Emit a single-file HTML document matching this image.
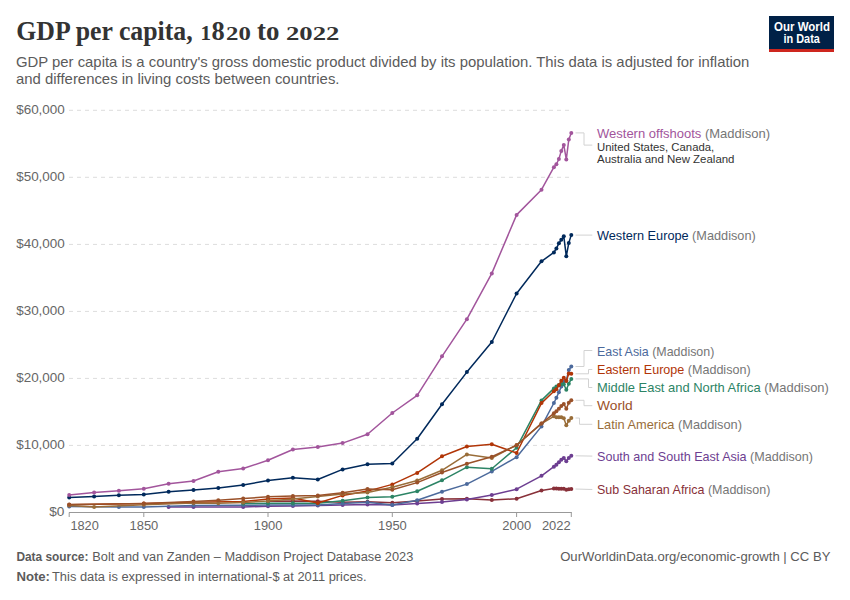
<!DOCTYPE html>
<html><head><meta charset="utf-8"><style>
html,body{margin:0;padding:0;background:#fff;}
body{width:850px;height:600px;overflow:hidden;}
svg{display:block;}
.t{font-family:"Liberation Serif",serif;font-weight:bold;font-size:26.6px;fill:#333333;}
.st{font-family:"Liberation Sans",sans-serif;font-size:14.4px;fill:#5b5b5b;}
.ax{font-family:"Liberation Sans",sans-serif;font-size:12.3px;fill:#666666;}
.lb{font-family:"Liberation Sans",sans-serif;font-size:13px;}
.ds{font-family:"Liberation Sans",sans-serif;font-size:11.5px;fill:#333333;}
.ft{font-family:"Liberation Sans",sans-serif;font-size:12px;fill:#5b5b5b;}
.lg{font-family:"Liberation Sans",sans-serif;font-weight:bold;font-size:12px;fill:#ffffff;}
</style></head><body>
<svg width="850" height="600" viewBox="0 0 850 600">
<rect width="850" height="600" fill="#ffffff"/>
<text x="16.2" y="40" class="t" textLength="176.5" lengthAdjust="spacingAndGlyphs">GDP per capita,</text>
<text x="200.6" y="40" class="t" style="font-size:20.5px" textLength="10.5" lengthAdjust="spacingAndGlyphs">1</text>
<text x="211.6" y="40" class="t" textLength="13.2" lengthAdjust="spacingAndGlyphs">8</text>
<text x="226" y="40" class="t" style="font-size:19px" textLength="24.8" lengthAdjust="spacingAndGlyphs">20</text>
<text x="257" y="40" class="t" textLength="22.4" lengthAdjust="spacingAndGlyphs">to</text>
<text x="286" y="40" class="t" style="font-size:19px" textLength="53.4" lengthAdjust="spacingAndGlyphs">2022</text>
<text x="16" y="66.5" class="st" textLength="733.4" lengthAdjust="spacingAndGlyphs">GDP per capita is a country's gross domestic product divided by its population. This data is adjusted for inflation</text>
<text x="16" y="84.3" class="st" textLength="323.5" lengthAdjust="spacingAndGlyphs">and differences in living costs between countries.</text>
<rect x="769" y="16" width="65" height="36" fill="#002147"/>
<rect x="769" y="49" width="65" height="3" fill="#ce261e"/>
<text x="774" y="30.8" class="lg" textLength="56" lengthAdjust="spacingAndGlyphs">Our World</text>
<text x="783.5" y="42.6" class="lg" textLength="36.4" lengthAdjust="spacingAndGlyphs">in Data</text>
<line x1="69" y1="110.3" x2="571.5" y2="110.3" stroke="#dddddd" stroke-width="1" stroke-dasharray="4,4"/>
<text x="16.2" y="114.3" class="ax" textLength="48.6" lengthAdjust="spacingAndGlyphs">$60,000</text>
<line x1="69" y1="177.3" x2="571.5" y2="177.3" stroke="#dddddd" stroke-width="1" stroke-dasharray="4,4"/>
<text x="16.2" y="181.3" class="ax" textLength="48.6" lengthAdjust="spacingAndGlyphs">$50,000</text>
<line x1="69" y1="244.4" x2="571.5" y2="244.4" stroke="#dddddd" stroke-width="1" stroke-dasharray="4,4"/>
<text x="16.2" y="248.4" class="ax" textLength="48.6" lengthAdjust="spacingAndGlyphs">$40,000</text>
<line x1="69" y1="311.4" x2="571.5" y2="311.4" stroke="#dddddd" stroke-width="1" stroke-dasharray="4,4"/>
<text x="16.2" y="315.4" class="ax" textLength="48.6" lengthAdjust="spacingAndGlyphs">$30,000</text>
<line x1="69" y1="378.4" x2="571.5" y2="378.4" stroke="#dddddd" stroke-width="1" stroke-dasharray="4,4"/>
<text x="16.2" y="382.4" class="ax" textLength="48.6" lengthAdjust="spacingAndGlyphs">$20,000</text>
<line x1="69" y1="445.4" x2="571.5" y2="445.4" stroke="#dddddd" stroke-width="1" stroke-dasharray="4,4"/>
<text x="16.2" y="449.4" class="ax" textLength="48.6" lengthAdjust="spacingAndGlyphs">$10,000</text>
<text x="49.2" y="516.4" class="ax" textLength="15.2" lengthAdjust="spacingAndGlyphs">$0</text>
<line x1="69" y1="512.5" x2="571.8" y2="512.5" stroke="#999" stroke-width="1"/>
<line x1="69.2" y1="512.5" x2="69.2" y2="517" stroke="#999" stroke-width="1"/>
<line x1="143.8" y1="512.5" x2="143.8" y2="517" stroke="#999" stroke-width="1"/>
<line x1="268.0" y1="512.5" x2="268.0" y2="517" stroke="#999" stroke-width="1"/>
<line x1="392.3" y1="512.5" x2="392.3" y2="517" stroke="#999" stroke-width="1"/>
<line x1="516.6" y1="512.5" x2="516.6" y2="517" stroke="#999" stroke-width="1"/>
<line x1="571.3" y1="512.5" x2="571.3" y2="517" stroke="#999" stroke-width="1"/>
<text x="70.4" y="530" class="ax" textLength="28.4" lengthAdjust="spacingAndGlyphs">1820</text>
<text x="129.5" y="530" class="ax" textLength="28.8" lengthAdjust="spacingAndGlyphs">1850</text>
<text x="253.7" y="530" class="ax" textLength="28.8" lengthAdjust="spacingAndGlyphs">1900</text>
<text x="378.0" y="530" class="ax" textLength="28.8" lengthAdjust="spacingAndGlyphs">1950</text>
<text x="502.3" y="530" class="ax" textLength="28.8" lengthAdjust="spacingAndGlyphs">2000</text>
<text x="541.9" y="530" class="ax" textLength="28.8" lengthAdjust="spacingAndGlyphs">2022</text>
<polyline points="268.0,501.3 292.9,500.9 317.8,501.2 342.6,502.2 367.5,501.7 392.3,502.8 417.2,501.0 442.0,499.0 466.9,498.7 491.8,500.0 516.6,498.7 541.5,490.5 553.9,488.5 556.4,488.6 558.9,488.7 561.3,488.7 563.8,488.8 566.3,489.7 568.8,489.3 571.3,489.0" fill="none" stroke="#883039" stroke-width="1.5" stroke-linejoin="round" stroke-linecap="round"/>
<g fill="#883039"><circle cx="268.0" cy="501.3" r="2"/><circle cx="292.9" cy="500.9" r="2"/><circle cx="317.8" cy="501.2" r="2"/><circle cx="342.6" cy="502.2" r="2"/><circle cx="367.5" cy="501.7" r="2"/><circle cx="392.3" cy="502.8" r="2"/><circle cx="417.2" cy="501.0" r="2"/><circle cx="442.0" cy="499.0" r="2"/><circle cx="466.9" cy="498.7" r="2"/><circle cx="491.8" cy="500.0" r="2"/><circle cx="516.6" cy="498.7" r="2"/><circle cx="541.5" cy="490.5" r="2"/><circle cx="553.9" cy="488.5" r="2"/><circle cx="556.4" cy="488.6" r="2"/><circle cx="558.9" cy="488.7" r="2"/><circle cx="561.3" cy="488.7" r="2"/><circle cx="563.8" cy="488.8" r="2"/><circle cx="566.3" cy="489.7" r="2"/><circle cx="568.8" cy="489.3" r="2"/><circle cx="571.3" cy="489.0" r="2"/></g>
<polyline points="168.6,507.0 193.5,507.1 243.2,507.0 268.0,506.2 292.9,506.0 317.8,505.6 342.6,505.1 367.5,504.4 392.3,505.0 417.2,503.6 442.0,502.0 466.9,499.4 491.8,494.9 516.6,489.2 541.5,475.8 553.9,466.7 556.4,464.7 558.9,462.2 561.3,459.7 563.8,458.0 566.3,461.3 568.8,458.0 571.3,455.8" fill="none" stroke="#6D3E91" stroke-width="1.5" stroke-linejoin="round" stroke-linecap="round"/>
<g fill="#6D3E91"><circle cx="168.6" cy="507.0" r="2"/><circle cx="193.5" cy="507.1" r="2"/><circle cx="243.2" cy="507.0" r="2"/><circle cx="268.0" cy="506.2" r="2"/><circle cx="292.9" cy="506.0" r="2"/><circle cx="317.8" cy="505.6" r="2"/><circle cx="342.6" cy="505.1" r="2"/><circle cx="367.5" cy="504.4" r="2"/><circle cx="392.3" cy="505.0" r="2"/><circle cx="417.2" cy="503.6" r="2"/><circle cx="442.0" cy="502.0" r="2"/><circle cx="466.9" cy="499.4" r="2"/><circle cx="491.8" cy="494.9" r="2"/><circle cx="516.6" cy="489.2" r="2"/><circle cx="541.5" cy="475.8" r="2"/><circle cx="553.9" cy="466.7" r="2"/><circle cx="556.4" cy="464.7" r="2"/><circle cx="558.9" cy="462.2" r="2"/><circle cx="561.3" cy="459.7" r="2"/><circle cx="563.8" cy="458.0" r="2"/><circle cx="566.3" cy="461.3" r="2"/><circle cx="568.8" cy="458.0" r="2"/><circle cx="571.3" cy="455.8" r="2"/></g>
<polyline points="69.2,506.5 118.9,507.0 143.8,506.9 193.5,505.5 243.2,505.2 268.0,505.1 292.9,505.0 317.8,505.0 342.6,503.5 367.5,502.3 392.3,505.1 417.2,500.2 442.0,491.8 466.9,484.1 491.8,471.4 516.6,457.2 541.5,426.4 553.9,403.0 556.4,397.7 558.9,392.2 561.3,386.6 563.8,381.5 566.3,380.5 568.8,370.0 571.3,366.5" fill="none" stroke="#4C6A9C" stroke-width="1.5" stroke-linejoin="round" stroke-linecap="round"/>
<g fill="#4C6A9C"><circle cx="69.2" cy="506.5" r="2"/><circle cx="118.9" cy="507.0" r="2"/><circle cx="143.8" cy="506.9" r="2"/><circle cx="193.5" cy="505.5" r="2"/><circle cx="243.2" cy="505.2" r="2"/><circle cx="268.0" cy="505.1" r="2"/><circle cx="292.9" cy="505.0" r="2"/><circle cx="317.8" cy="505.0" r="2"/><circle cx="342.6" cy="503.5" r="2"/><circle cx="367.5" cy="502.3" r="2"/><circle cx="392.3" cy="505.1" r="2"/><circle cx="417.2" cy="500.2" r="2"/><circle cx="442.0" cy="491.8" r="2"/><circle cx="466.9" cy="484.1" r="2"/><circle cx="491.8" cy="471.4" r="2"/><circle cx="516.6" cy="457.2" r="2"/><circle cx="541.5" cy="426.4" r="2"/><circle cx="553.9" cy="403.0" r="2"/><circle cx="556.4" cy="397.7" r="2"/><circle cx="558.9" cy="392.2" r="2"/><circle cx="561.3" cy="386.6" r="2"/><circle cx="563.8" cy="381.5" r="2"/><circle cx="566.3" cy="380.5" r="2"/><circle cx="568.8" cy="370.0" r="2"/><circle cx="571.3" cy="366.5" r="2"/></g>
<polyline points="243.2,503.5 268.0,503.3 292.9,503.3 317.8,503.3 342.6,500.7 367.5,497.5 392.3,496.7 417.2,491.2 442.0,480.3 466.9,467.2 491.8,468.8 516.6,447.7 541.5,400.4 553.9,388.4 556.4,386.5 558.9,385.0 561.3,384.0 563.8,384.3 566.3,389.7 568.8,383.7 571.3,378.9" fill="none" stroke="#2C8465" stroke-width="1.5" stroke-linejoin="round" stroke-linecap="round"/>
<g fill="#2C8465"><circle cx="243.2" cy="503.5" r="2"/><circle cx="268.0" cy="503.3" r="2"/><circle cx="292.9" cy="503.3" r="2"/><circle cx="317.8" cy="503.3" r="2"/><circle cx="342.6" cy="500.7" r="2"/><circle cx="367.5" cy="497.5" r="2"/><circle cx="392.3" cy="496.7" r="2"/><circle cx="417.2" cy="491.2" r="2"/><circle cx="442.0" cy="480.3" r="2"/><circle cx="466.9" cy="467.2" r="2"/><circle cx="491.8" cy="468.8" r="2"/><circle cx="516.6" cy="447.7" r="2"/><circle cx="541.5" cy="400.4" r="2"/><circle cx="553.9" cy="388.4" r="2"/><circle cx="556.4" cy="386.5" r="2"/><circle cx="558.9" cy="385.0" r="2"/><circle cx="561.3" cy="384.0" r="2"/><circle cx="563.8" cy="384.3" r="2"/><circle cx="566.3" cy="389.7" r="2"/><circle cx="568.8" cy="383.7" r="2"/><circle cx="571.3" cy="378.9" r="2"/></g>
<polyline points="69.2,504.8 143.8,503.6 193.5,502.2 243.2,501.5 268.0,499.1 292.9,498.0 317.8,503.0 342.6,495.4 367.5,491.1 392.3,484.4 417.2,472.9 442.0,456.3 466.9,446.5 491.8,444.2 516.6,453.0 541.5,403.1 553.9,391.3 556.4,389.3 558.9,385.3 561.3,380.7 563.8,377.7 566.3,381.0 568.8,373.5 571.3,373.8" fill="none" stroke="#B13507" stroke-width="1.5" stroke-linejoin="round" stroke-linecap="round"/>
<g fill="#B13507"><circle cx="69.2" cy="504.8" r="2"/><circle cx="143.8" cy="503.6" r="2"/><circle cx="193.5" cy="502.2" r="2"/><circle cx="243.2" cy="501.5" r="2"/><circle cx="268.0" cy="499.1" r="2"/><circle cx="292.9" cy="498.0" r="2"/><circle cx="317.8" cy="503.0" r="2"/><circle cx="342.6" cy="495.4" r="2"/><circle cx="367.5" cy="491.1" r="2"/><circle cx="392.3" cy="484.4" r="2"/><circle cx="417.2" cy="472.9" r="2"/><circle cx="442.0" cy="456.3" r="2"/><circle cx="466.9" cy="446.5" r="2"/><circle cx="491.8" cy="444.2" r="2"/><circle cx="516.6" cy="453.0" r="2"/><circle cx="541.5" cy="403.1" r="2"/><circle cx="553.9" cy="391.3" r="2"/><circle cx="556.4" cy="389.3" r="2"/><circle cx="558.9" cy="385.3" r="2"/><circle cx="561.3" cy="380.7" r="2"/><circle cx="563.8" cy="377.7" r="2"/><circle cx="566.3" cy="381.0" r="2"/><circle cx="568.8" cy="373.5" r="2"/><circle cx="571.3" cy="373.8" r="2"/></g>
<polyline points="69.2,505.6 94.1,507.0 143.8,504.8 193.5,503.0 218.3,503.2 243.2,502.4 268.0,501.1 292.9,499.0 317.8,496.6 342.6,494.0 367.5,492.5 392.3,487.2 417.2,480.5 442.0,470.3 466.9,454.4 491.8,458.0 516.6,445.0 541.5,423.6 553.9,416.3 556.4,417.3 558.9,417.3 561.3,417.3 563.8,418.3 566.3,425.3 568.8,420.7 571.3,418.0" fill="none" stroke="#996D39" stroke-width="1.5" stroke-linejoin="round" stroke-linecap="round"/>
<g fill="#996D39"><circle cx="69.2" cy="505.6" r="2"/><circle cx="94.1" cy="507.0" r="2"/><circle cx="143.8" cy="504.8" r="2"/><circle cx="193.5" cy="503.0" r="2"/><circle cx="218.3" cy="503.2" r="2"/><circle cx="243.2" cy="502.4" r="2"/><circle cx="268.0" cy="501.1" r="2"/><circle cx="292.9" cy="499.0" r="2"/><circle cx="317.8" cy="496.6" r="2"/><circle cx="342.6" cy="494.0" r="2"/><circle cx="367.5" cy="492.5" r="2"/><circle cx="392.3" cy="487.2" r="2"/><circle cx="417.2" cy="480.5" r="2"/><circle cx="442.0" cy="470.3" r="2"/><circle cx="466.9" cy="454.4" r="2"/><circle cx="491.8" cy="458.0" r="2"/><circle cx="516.6" cy="445.0" r="2"/><circle cx="541.5" cy="423.6" r="2"/><circle cx="553.9" cy="416.3" r="2"/><circle cx="556.4" cy="417.3" r="2"/><circle cx="558.9" cy="417.3" r="2"/><circle cx="561.3" cy="417.3" r="2"/><circle cx="563.8" cy="418.3" r="2"/><circle cx="566.3" cy="425.3" r="2"/><circle cx="568.8" cy="420.7" r="2"/><circle cx="571.3" cy="418.0" r="2"/></g>
<polyline points="69.2,504.6 143.8,503.4 193.5,501.5 218.3,500.2 243.2,498.6 268.0,496.8 292.9,496.0 317.8,495.6 342.6,492.8 367.5,489.1 392.3,489.7 417.2,482.6 442.0,472.5 466.9,463.7 491.8,456.8 516.6,445.3 541.5,423.4 553.9,413.3 556.4,411.3 558.9,408.7 561.3,406.1 563.8,404.0 566.3,408.7 568.8,402.7 571.3,400.3" fill="none" stroke="#9A5129" stroke-width="1.5" stroke-linejoin="round" stroke-linecap="round"/>
<g fill="#9A5129"><circle cx="69.2" cy="504.6" r="2"/><circle cx="143.8" cy="503.4" r="2"/><circle cx="193.5" cy="501.5" r="2"/><circle cx="218.3" cy="500.2" r="2"/><circle cx="243.2" cy="498.6" r="2"/><circle cx="268.0" cy="496.8" r="2"/><circle cx="292.9" cy="496.0" r="2"/><circle cx="317.8" cy="495.6" r="2"/><circle cx="342.6" cy="492.8" r="2"/><circle cx="367.5" cy="489.1" r="2"/><circle cx="392.3" cy="489.7" r="2"/><circle cx="417.2" cy="482.6" r="2"/><circle cx="442.0" cy="472.5" r="2"/><circle cx="466.9" cy="463.7" r="2"/><circle cx="491.8" cy="456.8" r="2"/><circle cx="516.6" cy="445.3" r="2"/><circle cx="541.5" cy="423.4" r="2"/><circle cx="553.9" cy="413.3" r="2"/><circle cx="556.4" cy="411.3" r="2"/><circle cx="558.9" cy="408.7" r="2"/><circle cx="561.3" cy="406.1" r="2"/><circle cx="563.8" cy="404.0" r="2"/><circle cx="566.3" cy="408.7" r="2"/><circle cx="568.8" cy="402.7" r="2"/><circle cx="571.3" cy="400.3" r="2"/></g>
<polyline points="69.2,497.5 94.1,496.5 118.9,495.2 143.8,494.4 168.6,491.8 193.5,490.1 218.3,488.1 243.2,485.0 268.0,480.5 292.9,477.8 317.8,479.5 342.6,469.4 367.5,464.2 392.3,463.5 417.2,438.8 442.0,404.3 466.9,372.1 491.8,342.0 516.6,293.5 541.5,261.3 553.9,252.4 556.4,248.4 558.9,243.3 561.3,239.7 563.8,236.3 566.3,256.3 568.8,242.9 571.3,234.9" fill="none" stroke="#00295B" stroke-width="1.5" stroke-linejoin="round" stroke-linecap="round"/>
<g fill="#00295B"><circle cx="69.2" cy="497.5" r="2"/><circle cx="94.1" cy="496.5" r="2"/><circle cx="118.9" cy="495.2" r="2"/><circle cx="143.8" cy="494.4" r="2"/><circle cx="168.6" cy="491.8" r="2"/><circle cx="193.5" cy="490.1" r="2"/><circle cx="218.3" cy="488.1" r="2"/><circle cx="243.2" cy="485.0" r="2"/><circle cx="268.0" cy="480.5" r="2"/><circle cx="292.9" cy="477.8" r="2"/><circle cx="317.8" cy="479.5" r="2"/><circle cx="342.6" cy="469.4" r="2"/><circle cx="367.5" cy="464.2" r="2"/><circle cx="392.3" cy="463.5" r="2"/><circle cx="417.2" cy="438.8" r="2"/><circle cx="442.0" cy="404.3" r="2"/><circle cx="466.9" cy="372.1" r="2"/><circle cx="491.8" cy="342.0" r="2"/><circle cx="516.6" cy="293.5" r="2"/><circle cx="541.5" cy="261.3" r="2"/><circle cx="553.9" cy="252.4" r="2"/><circle cx="556.4" cy="248.4" r="2"/><circle cx="558.9" cy="243.3" r="2"/><circle cx="561.3" cy="239.7" r="2"/><circle cx="563.8" cy="236.3" r="2"/><circle cx="566.3" cy="256.3" r="2"/><circle cx="568.8" cy="242.9" r="2"/><circle cx="571.3" cy="234.9" r="2"/></g>
<polyline points="69.2,494.9 94.1,492.5 118.9,490.7 143.8,488.8 168.6,483.7 193.5,481.0 218.3,471.8 243.2,468.5 268.0,460.3 292.9,449.5 317.8,447.0 342.6,443.1 367.5,434.3 392.3,413.0 417.2,395.3 442.0,356.3 466.9,319.2 491.8,273.4 516.6,214.9 541.5,189.7 553.9,167.2 556.4,164.3 558.9,159.0 561.3,150.9 563.8,145.1 566.3,159.4 568.8,139.5 571.3,132.9" fill="none" stroke="#A2559C" stroke-width="1.5" stroke-linejoin="round" stroke-linecap="round"/>
<g fill="#A2559C"><circle cx="69.2" cy="494.9" r="2"/><circle cx="94.1" cy="492.5" r="2"/><circle cx="118.9" cy="490.7" r="2"/><circle cx="143.8" cy="488.8" r="2"/><circle cx="168.6" cy="483.7" r="2"/><circle cx="193.5" cy="481.0" r="2"/><circle cx="218.3" cy="471.8" r="2"/><circle cx="243.2" cy="468.5" r="2"/><circle cx="268.0" cy="460.3" r="2"/><circle cx="292.9" cy="449.5" r="2"/><circle cx="317.8" cy="447.0" r="2"/><circle cx="342.6" cy="443.1" r="2"/><circle cx="367.5" cy="434.3" r="2"/><circle cx="392.3" cy="413.0" r="2"/><circle cx="417.2" cy="395.3" r="2"/><circle cx="442.0" cy="356.3" r="2"/><circle cx="466.9" cy="319.2" r="2"/><circle cx="491.8" cy="273.4" r="2"/><circle cx="516.6" cy="214.9" r="2"/><circle cx="541.5" cy="189.7" r="2"/><circle cx="553.9" cy="167.2" r="2"/><circle cx="556.4" cy="164.3" r="2"/><circle cx="558.9" cy="159.0" r="2"/><circle cx="561.3" cy="150.9" r="2"/><circle cx="563.8" cy="145.1" r="2"/><circle cx="566.3" cy="159.4" r="2"/><circle cx="568.8" cy="139.5" r="2"/><circle cx="571.3" cy="132.9" r="2"/></g>
<polyline points="575.5,132.9 584.0,132.9 584.0,145.1 592.3,145.1" fill="none" stroke="#d2d2d2" stroke-width="1"/>
<polyline points="575.5,235.1 592.3,235.1" fill="none" stroke="#d2d2d2" stroke-width="1"/>
<polyline points="575.5,366.5 584.0,366.5 584.0,350.5 592.3,350.5" fill="none" stroke="#d2d2d2" stroke-width="1"/>
<polyline points="575.5,373.8 588.5,373.8 588.5,369.5 592.3,369.5" fill="none" stroke="#d2d2d2" stroke-width="1"/>
<polyline points="575.5,378.9 588.5,378.9 588.5,387.5 592.3,387.5" fill="none" stroke="#d2d2d2" stroke-width="1"/>
<polyline points="575.5,400.3 584.0,400.3 584.0,405.7 592.3,405.7" fill="none" stroke="#d2d2d2" stroke-width="1"/>
<polyline points="575.5,418.0 579.5,418.0 579.5,424.3 592.3,424.3" fill="none" stroke="#d2d2d2" stroke-width="1"/>
<polyline points="575.5,455.8 592.3,456.1" fill="none" stroke="#d2d2d2" stroke-width="1"/>
<polyline points="575.5,489.0 592.3,489.5" fill="none" stroke="#d2d2d2" stroke-width="1"/>
<text x="597" y="137.9" class="lb" textLength="173.0" lengthAdjust="spacingAndGlyphs"><tspan fill="#A2559C">Western offshoots</tspan><tspan fill="#767676"> (Maddison)</tspan></text>
<text x="597" y="240.0" class="lb" textLength="158.7" lengthAdjust="spacingAndGlyphs"><tspan fill="#00295B">Western Europe</tspan><tspan fill="#767676"> (Maddison)</tspan></text>
<text x="597" y="355.5" class="lb" textLength="117.3" lengthAdjust="spacingAndGlyphs"><tspan fill="#4C6A9C">East Asia</tspan><tspan fill="#767676"> (Maddison)</tspan></text>
<text x="597" y="373.9" class="lb" textLength="153.6" lengthAdjust="spacingAndGlyphs"><tspan fill="#B13507">Eastern Europe</tspan><tspan fill="#767676"> (Maddison)</tspan></text>
<text x="597" y="391.8" class="lb" textLength="231.8" lengthAdjust="spacingAndGlyphs"><tspan fill="#2C8465">Middle East and North Africa</tspan><tspan fill="#767676"> (Maddison)</tspan></text>
<text x="597" y="410.3" class="lb" textLength="35.7" lengthAdjust="spacingAndGlyphs"><tspan fill="#9A5129">World</tspan><tspan fill="#767676"></tspan></text>
<text x="597" y="428.6" class="lb" textLength="145.0" lengthAdjust="spacingAndGlyphs"><tspan fill="#996D39">Latin America</tspan><tspan fill="#767676"> (Maddison)</tspan></text>
<text x="597" y="460.5" class="lb" textLength="216.0" lengthAdjust="spacingAndGlyphs"><tspan fill="#6D3E91">South and South East Asia</tspan><tspan fill="#767676"> (Maddison)</tspan></text>
<text x="597" y="493.7" class="lb" textLength="173.3" lengthAdjust="spacingAndGlyphs"><tspan fill="#883039">Sub Saharan Africa</tspan><tspan fill="#767676"> (Maddison)</tspan></text>
<text x="597" y="151.3" class="ds" textLength="117.2" lengthAdjust="spacingAndGlyphs">United States, Canada,</text>
<text x="597" y="162.6" class="ds" textLength="137.5" lengthAdjust="spacingAndGlyphs">Australia and New Zealand</text>

<text x="16.4" y="560.8" class="ft" font-weight="bold" textLength="72" lengthAdjust="spacingAndGlyphs">Data source:</text>
<text x="92.3" y="560.8" class="ft" textLength="321" lengthAdjust="spacingAndGlyphs">Bolt and van Zanden – Maddison Project Database 2023</text>
<text x="16.4" y="580.5" class="ft" font-weight="bold" textLength="33.6" lengthAdjust="spacingAndGlyphs">Note:</text>
<text x="52" y="580.5" class="ft" textLength="314.6" lengthAdjust="spacingAndGlyphs">This data is expressed in international-$ at 2011 prices.</text>
<text x="830.4" y="560.6" class="ft" text-anchor="end" textLength="270.2" lengthAdjust="spacingAndGlyphs">OurWorldinData.org/economic-growth | CC BY</text>
</svg>
</body></html>
